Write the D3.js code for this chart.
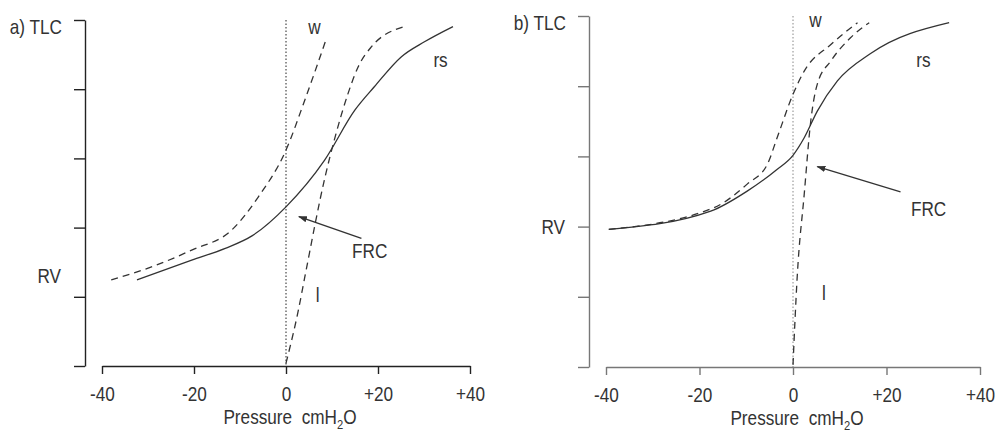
<!DOCTYPE html>
<html>
<head>
<meta charset="utf-8">
<script src="https://cdn.jsdelivr.net/npm/d3@7/dist/d3.min.js"></script>
<style>
  body { margin: 0; background: #fff; }
  svg text { font-family: "Liberation Sans", Arial, sans-serif; fill: #333; }
</style>
</head>
<body>
<svg id="chart" width="995" height="432"></svg>
<script>
// pressure (cmH2O) ticks and volume ticks (% of vital capacity)
const xTicks = [-40, -20, 0, 20, 40];
const yTicks = [0, 20, 40, 60, 80, 100];

// a) respiratory system, chest wall and lung curves: [pressure, volume]
const rsA = [[-32.4, 24.9], [-20.5, 30.6], [-13.2, 34.0], [-7.4, 37.6], [0, 46.0], [8.4, 59.5],
  [15, 74], [19.2, 80.7], [25.1, 89.4], [30.1, 93.7], [36.3, 98.1]];
const wA = [[-38, 24.9], [-29.1, 28.7], [-20.5, 33.5], [-11.8, 39.3], [-6, 48.9], [0, 62.4],
  [4.1, 76.9], [8.8, 94.7]];
const lA = [[0, 0.8], [2.7, 16.2], [4.1, 25.8], [8.5, 54.7], [10.7, 66.3], [13.5, 78.8],
  [15.7, 86.5], [18.6, 92.3], [25.8, 98.1]];

// b) same three curves
const rsB = [[-39.4, 39.2], [-17.6, 44.4], [-9.8, 50.1], [-3.5, 56.2], [0, 60.3], [2.4, 65.3],
  [5.2, 72.9], [9.5, 81.5], [16.6, 89.3], [33.4, 98.1]];
const wB = [[-39.4, 39.2], [-16.9, 45.4], [-9.8, 52.1], [-5.5, 57.7], [-3.4, 65.3], [0, 77.7],
  [2.4, 84.3], [8.1, 91.9], [13.8, 98.1]];
const lB = [[0, 0.6], [0.9, 25.7], [2.4, 49.2], [3.8, 70.1], [5.2, 80.6], [8.1, 87.2],
  [12.3, 93.8], [16.3, 98.1]];

const FONT = 20, SQUEEZE = 0.86;   // narrow lettering

const svg = d3.select('#chart');

svg.append('defs').append('marker')
    .attr('id', 'arrow')
    .attr('viewBox', '0 0 10 10')
    .attr('refX', 9).attr('refY', 5)
    .attr('markerWidth', 9).attr('markerHeight', 9)
    .attr('markerUnits', 'userSpaceOnUse')
    .attr('orient', 'auto')
  .append('path')
    .attr('d', 'M0,1.5 L10,5 L0,8.5 Z')
    .attr('fill', '#333');

function addText(parent, x, y, str, anchor) {
  return parent.append('text')
      .attr('transform', `translate(${x},${y}) scale(${SQUEEZE},1)`)
      .attr('text-anchor', anchor || 'middle')
      .attr('font-size', FONT)
      .text(str);
}

const panels = [
  { title: 'a) TLC', rs: rsA, w: wA, l: lA, rv: 26,
    xRange: [102, 470], yRange: [366, 20], axisX: 85, axisColor: '#222',
    zeroColor: '#222', labelRight: 62,
    labels: { w: [6.2, 96], rs: [33.6, 86.5], frc: [18.2, 31.2], l: [6.9, 18.6] },
    arrow: [[16.4, 36.9], [2.8, 43.2]] },
  { title: 'b) TLC', rs: rsB, w: wB, l: lB, rv: 40,
    xRange: [606, 980], yRange: [367, 16], axisX: 589, axisColor: '#777',
    zeroColor: '#888', labelRight: 566,
    labels: { w: [4.8, 97], rs: [27.9, 85.4], frc: [29.0, 43], l: [6.6, 19.2] },
    arrow: [[23.0, 49.9], [5.2, 57.1]] }
];

panels.forEach(p => {
  const x = d3.scaleLinear().domain([-40, 40]).range(p.xRange);
  const y = d3.scaleLinear().domain([0, 100]).range(p.yRange);
  const g = svg.append('g');

  // volume axis, unlabelled ticks
  const ya = g.append('g')
      .attr('transform', `translate(${p.axisX},0)`)
      .call(d3.axisLeft(y).tickValues(yTicks).tickSize(11).tickSizeOuter(0).tickFormat(''));
  ya.selectAll('path, line').attr('stroke', p.axisColor).attr('stroke-width', 1.4);

  // pressure axis
  const xa = g.append('g')
      .attr('transform', `translate(0,${y(0)})`)
      .call(d3.axisBottom(x).tickValues(xTicks).tickSize(8).tickSizeOuter(0).tickPadding(13)
        .tickFormat(d => d > 0 ? '+' + d : String(d)));
  xa.selectAll('path, line').attr('stroke', p.axisColor).attr('stroke-width', 1.4);
  xa.selectAll('text')
      .attr('font-size', FONT).attr('fill', '#333')
      .attr('font-family', '"Liberation Sans", Arial, sans-serif')
      .attr('transform', `scale(${SQUEEZE},1)`);

  const xl = addText(g, x(0) + 4, y(0) + 58, 'Pressure  cmH');
  xl.append('tspan').attr('font-size', 13).attr('dy', 5).text('2');
  xl.append('tspan').attr('dy', -5).text('O');
  xl.style('white-space', 'pre');

  addText(g, p.labelRight, y(100) + 7, p.title, 'end').attr('dy', '0.35em');
  addText(g, p.labelRight - 1, y(p.rv), 'RV', 'end').attr('dy', '0.35em');

  // zero pressure reference
  g.append('line')
      .attr('x1', x(0)).attr('x2', x(0))
      .attr('y1', y(100)).attr('y2', y(0))
      .attr('stroke', p.zeroColor).attr('stroke-width', 1)
      .attr('stroke-dasharray', '1.5,2');

  const line = d3.line()
      .x(d => x(d[0])).y(d => y(d[1]))
      .curve(d3.curveMonotoneX);

  g.append('path').datum(p.rs).attr('d', line)
      .attr('fill', 'none').attr('stroke', '#333').attr('stroke-width', 1.3);
  g.append('path').datum(p.w).attr('d', line)
      .attr('fill', 'none').attr('stroke', '#333').attr('stroke-width', 1.3)
      .attr('stroke-dasharray', '7,5');
  g.append('path').datum(p.l).attr('d', line)
      .attr('fill', 'none').attr('stroke', '#333').attr('stroke-width', 1.3)
      .attr('stroke-dasharray', '7,5');

  // curve labels
  const lab = (t, pos) => addText(g, x(pos[0]), y(pos[1]), t);
  lab('w', p.labels.w);
  lab('rs', p.labels.rs);
  lab('FRC', p.labels.frc);
  lab('l', p.labels.l);

  g.append('line')
      .attr('x1', x(p.arrow[0][0])).attr('y1', y(p.arrow[0][1]))
      .attr('x2', x(p.arrow[1][0])).attr('y2', y(p.arrow[1][1]))
      .attr('stroke', '#333').attr('stroke-width', 1.3)
      .attr('marker-end', 'url(#arrow)');
});
</script>
</body>
</html>
